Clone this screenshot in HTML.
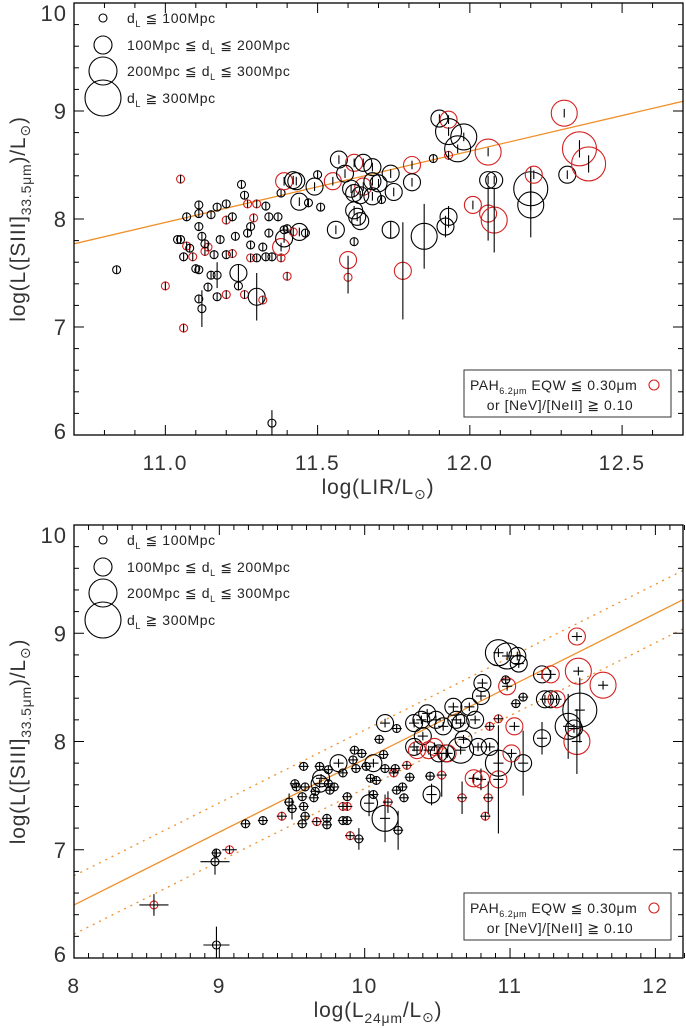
<!DOCTYPE html>
<html><head><meta charset="utf-8"><style>
html,body{margin:0;padding:0;background:#fff;}
svg{display:block;font-family:"Liberation Sans","DejaVu Sans",sans-serif;}
</style></head><body>
<svg id="chart" width="686" height="1028" viewBox="0 0 686 1028" xmlns="http://www.w3.org/2000/svg"></svg>
<script>
// ---- TOP PANEL DATA: log(LIR) vs log L([SIII]33.5) ----
const topX = [10.84,11.05,11.00,11.06,11.07,11.04,11.05,11.07,11.08,11.06, 11.09,11.11,11.11,11.10,11.11,11.11,11.12,11.14,11.15,11.13, 11.14,11.16,11.12,11.13,11.11,11.15,11.17,11.20,11.20,11.17, 11.17,11.20,11.18,11.20,11.22,11.22,11.23,11.25,11.26,11.27, 11.30,11.29,11.28,11.27,11.28,11.28,11.24,11.24,11.26,11.30, 11.32,11.30,11.32,11.33,11.34,11.34,11.33,11.35,11.38,11.38, 11.39,11.39,11.40,11.40,11.37,11.38,11.39,11.42,11.43,11.44, 11.44,11.42,11.46,11.47,11.49,11.50,11.51,11.55,11.57,11.56, 11.35,
11.60,11.60,11.62,11.62,11.65,11.68,11.65,11.62,11.64,11.61, 11.59,11.68,11.70,11.74,11.75,11.71,11.62,11.64,11.63,11.68, 11.74,11.78,11.81,11.81,11.85,11.92,11.93,11.88,11.93,11.90, 11.93,11.93,11.98,11.96,12.06,12.01,12.06,12.08,12.06,12.08, 12.20,12.20,12.21,12.31,12.32,12.36,12.39];
const topY = [7.53,8.37,7.38,6.99,8.02,7.81,7.81,7.75,7.73,7.65, 7.65,8.05,7.93,7.54,7.53,7.26,7.17,7.37,7.48,7.70, 7.74,7.67,7.84,7.77,8.13,8.04,8.11,8.14,7.99,7.48, 7.28,7.30,7.81,7.67,7.68,8.02,7.84,8.32,8.22,8.14, 8.14,8.01,7.93,7.87,7.76,7.64,7.50,7.38,7.30,7.28, 7.25,7.64,7.74,8.12,8.02,7.87,7.65,7.65,7.64,7.74, 7.82,7.90,7.47,7.91,8.02,8.24,8.35,8.36,8.35,8.16, 7.88,7.88,7.87,8.15,8.30,8.41,8.11,8.35,8.55,7.90, 6.11,
7.62,7.46,7.79,8.52,8.52,8.48,8.30,8.24,8.22,8.28, 8.42,8.35,8.33,8.42,8.25,8.18,8.08,7.98,8.02,8.21, 7.90,7.52,8.50,8.34,7.84,7.93,8.02,8.56,8.59,8.93, 8.92,8.81,8.76,8.65,8.62,8.13,8.05,7.99,8.36,8.36, 8.28,8.13,8.41,8.98,8.41,8.65,8.51];
const topD = [0,0,0,0,0,0,0,0,0,0, 0,0,0,0,0,0,0,0,0,0, 0,0,0,0,0,0,0,0,0,0, 0,0,0,0,0,0,0,0,0,0, 0,0,0,0,0,0,1,0,0,1, 0,0,0,0,0,0,0,0,0,1, 1,0,0,0,0,0,1,1,1,1, 1,0,0,0,1,0,0,1,1,1, 0,
1,0,0,1,1,1,1,1,1,1, 1,1,1,1,1,0,1,1,1,1, 1,1,1,1,2,1,1,0,0,1, 1,2,2,2,2,1,1,2,1,1, 3,2,1,2,1,3,3];
const topRed = [0,1,1,1,0,0,0,1,0,0, 1,0,0,0,0,0,0,0,0,1, 1,0,0,0,0,0,0,0,1,0, 0,1,0,0,1,0,0,0,0,1, 1,1,0,0,0,1,0,0,1,0, 1,0,0,0,0,0,0,0,1,1, 0,0,1,0,0,0,1,0,0,0, 0,1,0,0,0,0,0,1,0,0, 0,
1,1,0,1,0,0,1,0,0,0, 0,0,0,0,0,0,0,0,0,0, 0,1,1,0,0,0,0,0,1,0, 1,0,0,0,1,1,1,1,0,0, 0,0,1,1,0,1,1];
const topErr = [.04,.04,.04,.04,.04,.04,.04,.04,.04,.04, .04,.04,.04,.04,.04,.04,.17,.04,.04,.04, .04,.04,.04,.04,.04,.04,.04,.04,.04,.12, .04,.04,.04,.04,.04,.04,.04,.04,.04,.04, .04,.04,.04,.04,.04,.04,.08,.04,.04,.22, .04,.04,.04,.04,.04,.04,.04,.04,.04,.04, .04,.04,.04,.04,.04,.04,.04,.04,.04,.04, .04,.04,.04,.04,.04,.04,.04,.04,.04,.04, .12,
.04,.15,.04,.04,.04,.04,.04,.04,.04,.04, .04,.04,.04,.04,.04,.04,.04,.04,.04,.04, .08,.45,.04,.04,.3,.1,.1,.04,.04,.04, .04,.04,.04,.04,.04,.04,.25,.3,.04,.04, .2,.3,.04,.04,.04,.08,.08];
const topFit = [7.77, 0.66]; // intercept at x=10.7, slope

// ---- BOTTOM PANEL DATA: log(L24) vs log L([SIII]33.5) ----
const botX = [8.55,8.98,8.97,8.98,9.07,9.18,9.30,9.43,9.48,9.50, 9.58,9.52,9.53,9.57,9.58,9.59,9.57,9.67,9.65,9.66, 9.69,9.70,9.69,9.75,9.75,9.76,9.74,9.74,9.59,9.82, 9.79,9.85,9.85,9.85,9.88,9.88,9.88,9.90,9.96,9.93, 9.92,9.94,9.98,10.01,10.06,10.03,10.06,10.04,10.08,10.10, 10.14,10.13,10.14,10.14,10.16,10.20,10.21,10.22,10.22,10.23, 10.26,10.27,10.29,10.31,10.34,10.34,10.36,10.39,10.40,10.43, 10.44,10.45,10.46,10.48,10.49,10.51,10.53,10.54,10.56,10.57, 10.61,10.63,10.66,10.66,10.67,10.68,10.72,10.76,10.78,10.80, 10.81,10.80,10.75,10.83,10.85,10.86,10.86,10.92,10.92,10.98, 11.05,11.06,10.92,10.92,10.98,10.97,11.01,11.04,11.03,11.09, 11.09,11.22,11.28,11.24,11.28,11.32,11.22,11.40,11.46,11.47, 11.64,11.48,11.46,11.44];
const botY = [6.49,6.12,6.89,6.97,7.00,7.24,7.27,7.31,7.44,7.38, 7.77,7.61,7.58,7.49,7.40,7.31,7.24,7.26,7.48,7.54, 7.61,7.66,7.77,7.74,7.61,7.55,7.29,7.23,7.58,7.80, 7.58,7.27,7.40,7.71,7.49,7.40,7.27,7.13,7.10,7.92, 7.83,7.75,7.89,7.77,7.80,7.43,7.51,7.66,7.64,8.02, 8.17,7.88,7.75,7.29,7.44,7.71,7.75,7.55,8.12,7.18, 7.58,7.48,7.78,7.67,8.17,7.95,7.92,8.20,8.05,8.26, 7.92,7.68,7.51,7.95,8.20,7.89,7.69,8.14,7.89,7.89, 8.32,8.20,8.17,7.92,7.48,8.02,8.32,8.20,7.95,8.42, 8.54,7.65,7.66,7.31,7.48,8.14,7.95,8.21,8.82,8.79, 8.79,8.72,7.80,7.65,8.51,8.57,7.89,8.35,8.14,7.80, 8.41,8.62,8.62,8.39,8.39,8.39,8.03,8.14,8.97,8.65, 8.52,8.29,8.00,8.12];
const botD = [0,0,0,0,0,0,0,0,0,0, 0,0,0,0,0,0,0,0,0,0, 1,1,0,0,0,0,0,0,0,1, 0,0,0,0,0,0,0,0,0,0, 0,0,0,0,1,1,0,0,0,0, 1,0,0,2,0,0,0,0,0,0, 0,0,0,0,1,1,1,1,1,1, 1,0,1,1,1,1,0,1,1,1, 1,1,1,2,0,1,1,1,1,1, 1,1,1,0,0,0,1,0,2,2, 1,1,2,1,1,0,1,0,1,1, 0,1,1,1,1,1,1,2,1,2, 2,3,2,1];
const botRed = [1,0,0,0,1,0,0,1,0,0, 0,0,0,0,0,0,0,1,0,0, 0,0,0,0,0,0,0,0,0,0, 0,0,1,0,0,1,0,1,0,0, 0,0,0,0,0,0,0,0,0,0, 0,0,0,0,1,1,0,0,0,0, 0,0,1,0,0,0,1,0,0,0, 1,0,0,1,0,0,1,0,0,1, 0,0,0,0,1,0,0,0,0,0, 0,1,1,1,1,1,0,1,0,0, 0,0,0,1,1,0,1,0,1,0, 0,0,1,0,0,1,0,0,1,1, 1,0,1,0];
const botYErr = [.10,.17,.12,.04,.04,.04,.04,.04,.08,.10, .04,.04,.04,.04,.04,.04,.04,.04,.04,.04, .04,.04,.04,.04,.04,.04,.04,.04,.04,.04, .04,.04,.04,.04,.04,.04,.04,.04,.10,.04, .04,.04,.04,.04,.04,.12,.04,.04,.04,.04, .04,.04,.04,.22,.10,.04,.04,.04,.04,.18, .04,.04,.04,.04,.04,.04,.04,.04,.04,.04, .04,.04,.10,.04,.04,.04,.20,.04,.04,.04, .04,.04,.04,.04,.15,.04,.04,.04,.04,.04, .04,.10,.04,.04,.15,.04,.04,.04,.04,.04, .04,.04,.10,.5,.04,.04,.04,.04,.04,.3, .04,.04,.04,.04,.04,.04,.15,.3,.04,.04, .04,.3,.3,.04];
const botXErr = [.10,.09,.10,.035,.05,.035,.035,.035,.035,.035];
const botFit = [6.49, 0.673, 0.27]; // intercept at x=8, slope, dotted offset

const svg = document.getElementById('chart');
const NS = 'http://www.w3.org/2000/svg';
const RADII = [4, 8.5, 13, 17];
function mk(tag, attrs, parent) {
  const e = document.createElementNS(NS, tag);
  for (const k in attrs) e.setAttribute(k, attrs[k]);
  (parent || svg).appendChild(e);
  return e;
}

function panel(cfg) {
  const g = mk('g', {});
  
  
  const L = 74, R = 683, T = cfg.top, B = cfg.bottom;
  const sx = v => L + (v - cfg.xmin) / (cfg.xmax - cfg.xmin) * (R - L);
  const sy = v => B - (v - 6) / 4 * (B - T);
  const clipId = 'clip' + cfg.name;
  const defs = mk('defs', {}, g);
  const cp = mk('clipPath', {id: clipId}, defs);
  mk('rect', {x: L, y: T, width: R - L, height: B - T}, cp);

  const lines = mk('g', {'clip-path': 'url(#' + clipId + ')'}, g);
  
  
  cfg.fits.forEach(f => {
    const ln = mk('line', {x1: sx(cfg.xmin), y1: sy(f.a), x2: sx(cfg.xmax), y2: sy(f.a + f.b * (cfg.xmax - cfg.xmin)), stroke: '#f0902a', 'stroke-width': 1.3, 'stroke-dasharray': f.dash || 'none'}, lines);
    
    
  });

  const pts = mk('g', {'clip-path': 'url(#' + clipId + ')', fill: 'none', 'stroke-width': 1.1}, g);
  
  
  for (let i = 0; i < cfg.xs.length; i++) {
    const col = cfg.red[i] ? '#d42020' : '#000';
    const cx = sx(cfg.xs[i]), cy = sy(cfg.ys[i]);
    const p = mk('g', {stroke: col}, pts);
    
    
    mk('circle', {cx: cx, cy: cy, r: RADII[cfg.d[i]]}, p);
    const ye = cfg.yerr[i] !== undefined ? cfg.yerr[i] : 0.04;
    mk('line', {x1: cx, x2: cx, y1: sy(cfg.ys[i] - ye), y2: sy(cfg.ys[i] + ye), stroke: '#000'}, p);
    if (cfg.xerr) {
      const xe = cfg.xerr[i] !== undefined ? cfg.xerr[i] : 0.035;
      mk('line', {x1: sx(cfg.xs[i] - xe), x2: sx(cfg.xs[i] + xe), y1: cy, y2: cy, stroke: '#000'}, p);
    }
  }

  const fr = mk('rect', {x: L, y: T, width: R - L, height: B - T, fill: 'none', stroke: '#000', 'stroke-width': 1.3}, g);
  
  

  const tk = mk('g', {stroke: '#000', 'stroke-width': 1}, g);
  
  
  const nx = Math.round((cfg.xmax - cfg.xmin) / 0.1);
  for (let k = 0; k <= nx; k++) {
    const v = cfg.xmin + k * 0.1;
    const major = Math.abs(v / cfg.xmajor - Math.round(v / cfg.xmajor)) < 1e-6;
    const len = major ? 10 : 5, x = sx(v);
    mk('line', {x1: x, x2: x, y1: B, y2: B - len}, tk);
    mk('line', {x1: x, x2: x, y1: T, y2: T + len}, tk);
  }
  for (let k = 0; k <= 20; k++) {
    const v = 6 + k * 0.2, major = k % 5 === 0, len = major ? 10 : 5, y = sy(v);
    mk('line', {x1: L, x2: L + len, y1: y, y2: y}, tk);
    mk('line', {x1: R, x2: R - len, y1: y, y2: y}, tk);
  }
  cfg.xlabels.forEach(v => {
    const t = mk('text', {x: sx(v), y: B + 35, 'font-size': 21, 'letter-spacing': 1.5, 'text-anchor': 'middle', fill: '#333'}, g);
    t.textContent = cfg.xfmt(v);
    
    
  });
  [6, 7, 8, 9, 10].forEach(v => {
    const yy = v === 10 ? sy(v) + 18 : (v === 6 ? sy(v) + 4 : sy(v) + 8);
    const t = mk('text', {x: L - 7, y: yy, 'font-size': 22, 'letter-spacing': 1, 'text-anchor': 'end', fill: '#333'}, g);
    t.textContent = v;
    
    
  });
  const yt = mk('text', {transform: 'translate(25,' + ((T + B) / 2) + ') rotate(-90)', 'font-size': 21, 'letter-spacing': 0.8, 'text-anchor': 'middle', fill: '#333'}, g);
  
  
  yt.innerHTML = 'log(L([SIII]<tspan font-size="14" dy="6">33.5μm</tspan><tspan dy="-6">)/L</tspan><tspan font-size="14" dy="5">⊙</tspan><tspan dy="-5">)</tspan>';
  const xt = mk('text', {x: 378, y: B + 59, 'font-size': 21, 'letter-spacing': 0.8, 'text-anchor': 'middle', fill: '#333'}, g);
  
  
  xt.innerHTML = cfg.xtitle;

  const lg = mk('g', {}, g);
  
  
  const lt = ['d<tspan font-size="9" dy="4">L</tspan><tspan dy="-4"> ≦ 100Mpc</tspan>',
    '100Mpc ≦ d<tspan font-size="9" dy="4">L</tspan><tspan dy="-4"> ≦ 200Mpc</tspan>',
    '200Mpc ≦ d<tspan font-size="9" dy="4">L</tspan><tspan dy="-4"> ≦ 300Mpc</tspan>',
    'd<tspan font-size="9" dy="4">L</tspan><tspan dy="-4"> ≧ 300Mpc</tspan>'];
  const lyy = [19, 46, 72, 99];
  for (let k = 0; k < 4; k++) {
    const c = mk('circle', {cx: 103, cy: T + lyy[k] - 4, r: [4, 9, 14, 18][k], fill: 'none', stroke: '#000', 'stroke-width': 1.1}, lg);
    
    
    const t = mk('text', {x: 127, y: T + lyy[k] + 1, 'font-size': 14, 'letter-spacing': 0.6, fill: '#222'}, lg);
    t.innerHTML = lt[k];
    
    
  }
  const bx = mk('g', {}, g);
  
  
  const by = B - 65;
  mk('rect', {x: 464, y: by, width: 207, height: 47, fill: '#fff', stroke: '#333', 'stroke-width': 1}, bx);
  const t1 = mk('text', {x: 470, y: by + 20, 'font-size': 14, 'letter-spacing': 0.5, fill: '#222'}, bx);
  t1.innerHTML = 'PAH<tspan font-size="9" dy="4">6.2μm</tspan><tspan dy="-4"> EQW ≦ 0.30μm</tspan>';
  
  
  mk('circle', {cx: 654, cy: by + 15, r: 5, fill: 'none', stroke: '#d42020', 'stroke-width': 1.1}, bx);
  const t2 = mk('text', {x: 560, y: by + 40, 'font-size': 14, 'letter-spacing': 0.5, 'text-anchor': 'middle', fill: '#222'}, bx);
  t2.textContent = 'or [NeV]/[NeII] ≧ 0.10';
  
  
}

panel({name: 'top-panel', top: 3, bottom: 435, xmin: 10.7, xmax: 12.7, xmajor: 0.5,
  xs: topX, ys: topY, d: topD, red: topRed, yerr: topErr, xerr: null,
  fits: [{a: topFit[0], b: topFit[1], name: 'fit-line'}],
  xlabels: [11.0, 11.5, 12.0, 12.5], xfmt: v => v.toFixed(1),
  xtitle: 'log(LIR/L<tspan font-size="14" dy="5">⊙</tspan><tspan dy="-5">)</tspan>'});

panel({name: 'bottom-panel', top: 525, bottom: 958, xmin: 8, xmax: 12.19, xmajor: 1,
  xs: botX, ys: botY, d: botD, red: botRed, yerr: botYErr, xerr: botXErr,
  fits: [{a: botFit[0], b: botFit[1], name: 'fit-line'},
         {a: botFit[0] + botFit[2], b: botFit[1], dash: '2,5', name: 'fit-upper-bound'},
         {a: botFit[0] - botFit[2], b: botFit[1], dash: '2,5', name: 'fit-lower-bound'}],
  xlabels: [8, 9, 10, 11, 12], xfmt: v => String(v),
  xtitle: 'log(L<tspan font-size="14" dy="6">24μm</tspan><tspan dy="-6">/L</tspan><tspan font-size="14" dy="5">⊙</tspan><tspan dy="-5">)</tspan>'});
</script>
</body></html>
